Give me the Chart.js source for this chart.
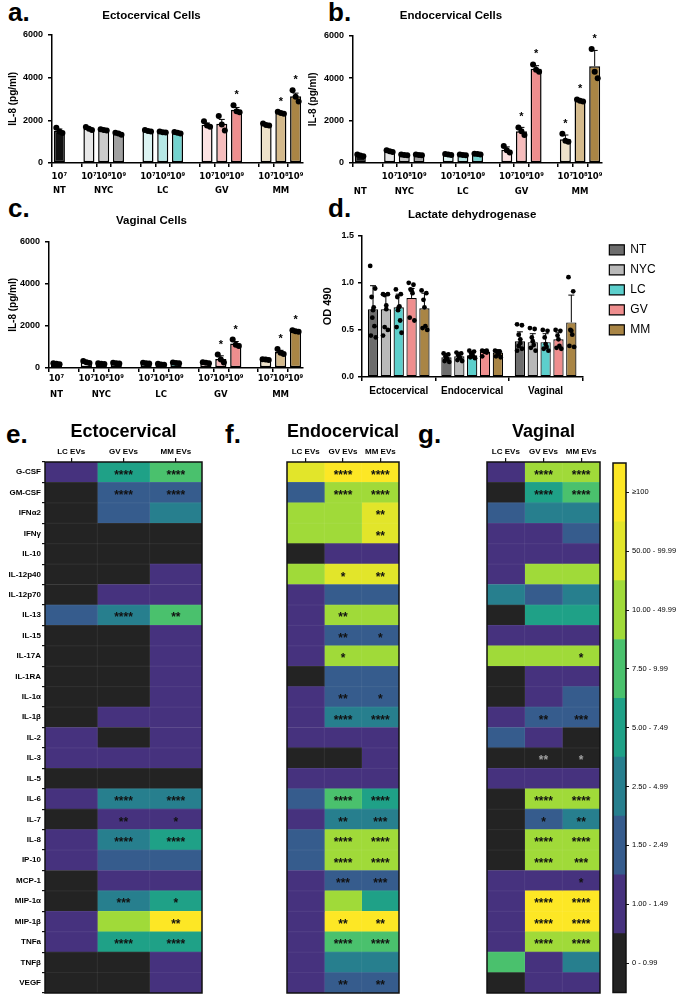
<!DOCTYPE html>
<html>
<head>
<meta charset="utf-8">
<script src="https://cdn.jsdelivr.net/npm/chart.js@4.4.1/dist/chart.umd.min.js"></script>
<style>
  body { margin: 0; background: #fff; width: 680px; height: 1000px; position: relative; overflow: hidden; }
  canvas { position: absolute; }
  .tag { position: absolute; font: bold 26px "Liberation Sans", Arial, sans-serif; line-height: 26px; color: #000; }
</style>
</head>
<body>
<div class="tag" style="left:8px;top:-1px">a.</div>
<div class="tag" style="left:328px;top:-1px">b.</div>
<div class="tag" style="left:8px;top:195px">c.</div>
<div class="tag" style="left:328px;top:195px">d.</div>
<div class="tag" style="left:6px;top:421px">e.</div>
<div class="tag" style="left:225px;top:421px">f.</div>
<div class="tag" style="left:418px;top:421px">g.</div>

<canvas id="ecto" width="320" height="200" style="left:0;top:0"></canvas>
<canvas id="endo" width="320" height="200" style="left:300px;top:0"></canvas>
<canvas id="vag" width="320" height="200" style="left:0;top:200px"></canvas>
<canvas id="ldh" width="362" height="200" style="left:318px;top:200px"></canvas>
<canvas id="hmE" width="215" height="590" style="left:0;top:410px"></canvas>
<canvas id="hmF" width="210" height="590" style="left:205px;top:410px"></canvas>
<canvas id="hmG" width="190" height="590" style="left:420px;top:410px"></canvas>
<canvas id="scale" width="80" height="545" style="left:600px;top:455px"></canvas>

<script>
// ---------- data: IL-8 (pg/ml) ----------
// bar order: NT, NYC 10^7 10^8 10^9, LC ..., GV ..., MM ...
const groups = ['NT', 'NYC', 'LC', 'GV', 'MM'];
const doses = ['10⁷', '10⁸', '10⁹'];

const ectoMean = [1500, 1600, 1550, 1380, 1500, 1450, 1420, 1790, 1840, 2490, 1790, 2350, 3120];
const ectoErr = [90, 50, 30, 50, 30, 20, 30, 80, 200, 110, 40, 40, 150];
const ectoPts = [
  [1650, 1480, 1400], [1680, 1600, 1550], [1580, 1550, 1520], [1420, 1380, 1320],
  [1540, 1500, 1480], [1470, 1440, 1430], [1450, 1420, 1380],
  [1950, 1750, 1700], [2200, 1800, 1520], [2700, 2420, 2380],
  [1850, 1780, 1750], [2400, 2340, 2300], [3400, 3100, 2880]
];
const ectoSig = ['', '', '', '', '', '', '', '', '', '*', '', '*', '*'];

const endoMean = [350, 550, 380, 380, 400, 380, 420, 630, 1500, 4440, 1120, 2940, 4560];
const endoErr = [40, 40, 20, 20, 20, 15, 20, 130, 180, 150, 200, 50, 750];
const endoPts = [
  [400, 350, 320], [600, 550, 520], [400, 380, 360], [400, 380, 360],
  [420, 400, 380], [400, 380, 370], [440, 420, 400],
  [800, 600, 500], [1680, 1500, 1320], [4650, 4400, 4300],
  [1380, 1050, 1000], [3000, 2940, 2900], [5380, 4300, 4000]
];
const endoSig = ['', '', '', '', '', '', '', '', '*', '*', '*', '*', '*'];

const vagMean = [200, 280, 210, 230, 230, 175, 240, 250, 430, 1160, 400, 760, 1750];
const vagErr = [20, 30, 20, 20, 20, 20, 20, 20, 150, 100, 20, 80, 30];
const vagPts = [
  [230, 200, 180], [330, 270, 240], [230, 200, 190], [250, 230, 210],
  [250, 230, 210], [200, 170, 160], [260, 240, 220],
  [270, 250, 230], [640, 400, 260], [1350, 1100, 1050],
  [420, 400, 380], [900, 720, 660], [1800, 1750, 1720]
];
const vagSig = ['', '', '', '', '', '', '', '', '*', '*', '', '*', '*'];

const barColors = ['#111111', '#e8e8e8', '#cbcbcb', '#a0a0a0', '#dcf4f3', '#b5e8e6', '#72d3cf',
  '#fde2e2', '#f6bcbc', '#ee8e8e', '#eee2ca', '#d4ba8c', '#a98545'];

// ---------- data: LDH (OD 490) ----------
const ldhGroups = ['Ectocervical', 'Endocervical', 'Vaginal'];
const ldhSeries = ['NT', 'NYC', 'LC', 'GV', 'MM'];
const ldhColors = ['#6d6d6d', '#b9b9b9', '#5ccfcc', '#ef8e8e', '#a98545'];
const ldhNT = [0.72, 0.21, 0.38];
const ldhNYC = [0.72, 0.22, 0.37];
const ldhLC = [0.74, 0.23, 0.37];
const ldhGV = [0.84, 0.27, 0.40];
const ldhMM = [0.73, 0.26, 0.58];
const ldhErrNT = [0.25, 0.04, 0.10];
const ldhErrNYC = [0.16, 0.04, 0.09];
const ldhErrLC = [0.14, 0.04, 0.09];
const ldhErrGV = [0.10, 0.02, 0.07];
const ldhErrMM = [0.16, 0.03, 0.29];
const ldhPtsNT = [[1.18, 0.94, 0.85, 0.74, 0.71, 0.63, 0.54, 0.44, 0.42], [0.25, 0.24, 0.22, 0.20, 0.19, 0.17, 0.16], [0.56, 0.55, 0.45, 0.40, 0.36, 0.33, 0.30, 0.28]];
const ldhPtsNYC = [[0.88, 0.88, 0.87, 0.76, 0.72, 0.53, 0.50, 0.44], [0.26, 0.25, 0.23, 0.21, 0.20, 0.18, 0.17], [0.52, 0.51, 0.42, 0.38, 0.34, 0.31, 0.28]];
const ldhPtsLC = [[0.93, 0.88, 0.85, 0.75, 0.74, 0.71, 0.60, 0.53, 0.47], [0.28, 0.27, 0.25, 0.24, 0.22, 0.21, 0.20], [0.50, 0.49, 0.42, 0.35, 0.32, 0.30, 0.28]];
const ldhPtsGV = [[1.00, 0.98, 0.93, 0.92, 0.89, 0.63, 0.60], [0.28, 0.28, 0.27, 0.27, 0.26, 0.22], [0.50, 0.49, 0.44, 0.40, 0.33, 0.31, 0.30]];
const ldhPtsMM = [[0.92, 0.89, 0.82, 0.74, 0.54, 0.52, 0.50], [0.28, 0.27, 0.27, 0.26, 0.24, 0.22, 0.21], [1.06, 0.91, 0.50, 0.49, 0.45, 0.33, 0.32]];

// ---------- data: fold change heatmaps (class index into the colour scale) ----------
const cytokines = ['G-CSF', 'GM-CSF', 'IFNα2', 'IFNγ', 'IL-10', 'IL-12p40', 'IL-12p70', 'IL-13', 'IL-15',
  'IL-17A', 'IL-1RA', 'IL-1α', 'IL-1β', 'IL-2', 'IL-3', 'IL-5', 'IL-6', 'IL-7', 'IL-8', 'IP-10',
  'MCP-1', 'MIP-1α', 'MIP-1β', 'TNFa', 'TNFβ', 'VEGF'];
const evNames = ['LC EVs', 'GV EVs', 'MM EVs'];
const rangeLabels = ['0 - 0.99', '1.00 - 1.49', '1.50 - 2.49', '2.50 - 4.99', '5.00 - 7.49',
  '7.50 - 9.99', '10.00 - 49.99', '50.00 - 99.99', '≥100'];
const rangeColors = ['#232323', '#46327e', '#365c8d', '#277f8e', '#1fa187', '#4ac16d', '#a0da39', '#e2e52a', '#fde725'];

const ectoLC = [1, 0, 0, 0, 0, 0, 0, 2, 0, 0, 0, 0, 0, 1, 1, 0, 1, 0, 1, 1, 0, 0, 1, 1, 0, 0];
const ectoGV = [4, 2, 2, 0, 0, 0, 1, 3, 0, 0, 0, 0, 1, 0, 1, 0, 3, 1, 3, 2, 1, 3, 6, 4, 0, 0];
const ectoMM = [5, 2, 3, 0, 0, 1, 1, 5, 1, 1, 1, 1, 1, 1, 1, 0, 3, 1, 4, 2, 1, 4, 8, 4, 1, 1];
const ectoGVSig = ['****', '****', '', '', '', '', '', '****', '', '', '', '', '', '', '', '', '****', '**', '****', '', '', '***', '', '****', '', ''];
const ectoMMSig = ['****', '****', '', '', '', '', '', '**', '', '', '', '', '', '', '', '', '****', '*', '****', '', '', '*', '**', '****', '', ''];

const endoLC = [7, 2, 6, 6, 0, 6, 1, 1, 1, 1, 0, 1, 1, 1, 0, 1, 2, 1, 2, 2, 1, 1, 1, 1, 1, 1];
const endoGV = [8, 6, 6, 6, 1, 7, 2, 6, 2, 6, 2, 2, 3, 1, 0, 1, 5, 3, 6, 6, 2, 6, 8, 5, 3, 2];
const endoMM = [8, 6, 7, 7, 1, 7, 2, 6, 2, 6, 2, 2, 3, 1, 1, 1, 4, 3, 6, 6, 2, 4, 8, 5, 3, 2];
const endoGVSig = ['****', '****', '', '', '', '*', '', '**', '**', '*', '', '**', '****', '', '', '', '****', '**', '****', '****', '***', '', '**', '****', '', '**'];
const endoMMSig = ['****', '****', '**', '**', '', '**', '', '', '*', '', '', '*', '****', '', '', '', '****', '***', '****', '****', '***', '', '**', '****', '', '**'];

const vagLC = [1, 0, 2, 1, 1, 1, 3, 0, 1, 6, 0, 0, 1, 2, 0, 1, 0, 0, 0, 0, 1, 1, 1, 1, 5, 0];
const vagGV = [6, 4, 3, 1, 1, 6, 2, 4, 1, 6, 1, 1, 2, 1, 0, 1, 6, 2, 6, 6, 1, 8, 8, 6, 1, 1];
const vagMM = [6, 5, 3, 2, 1, 6, 3, 4, 1, 6, 1, 2, 2, 0, 0, 1, 6, 3, 6, 6, 1, 8, 8, 6, 3, 1];
const vagGVSig = ['****', '****', '', '', '', '', '', '', '', '', '', '', '**', '', '**', '', '****', '*', '****', '****', '', '****', '****', '****', '', ''];
const vagMMSig = ['****', '****', '', '', '', '', '', '', '', '*', '', '', '***', '', '*', '', '****', '**', '****', '***', '*', '****', '****', '****', '', ''];

// ---------- setup ----------
const FONT = '"Liberation Sans", Arial, Helvetica, sans-serif';
Chart.defaults.font.family = FONT;
Chart.defaults.color = '#000';
Chart.defaults.animation = false;
Chart.defaults.plugins.tooltip.enabled = false;

// NT gets one bar, the other groups three, with an empty slot between groups
function slots(values) {
  const out = [values[0]];
  for (let g = 0; g < 4; g++) {
    out.push(null);
    for (let k = 0; k < 3; k++) out.push(values[1 + g * 3 + k]);
  }
  return out;
}
function slotLabels(ntDose) {
  const out = [[ntDose ? doses[0] : '', 'NT']];
  for (let g = 1; g < groups.length; g++) {
    out.push(['', '']);
    doses.forEach((d, k) => out.push([d, k === 1 ? groups[g] : '']));
  }
  return out;
}

// error bars, dots and stars on top of the bars
const marks = {
  id: 'marks',
  afterDatasetsDraw(chart, args, o) {
    const ctx = chart.ctx, y = chart.scales.y;
    ctx.save();
    chart.data.datasets.forEach((ds, di) => {
      chart.getDatasetMeta(di).data.forEach((bar, i) => {
        const v = ds.data[i];
        if (v == null) return;
        const e = o.errors[di][i], pts = o.points[di][i] || [];
        const cx = bar.x, top = y.getPixelForValue(v + e);
        ctx.strokeStyle = '#000';
        ctx.lineWidth = 1;
        ctx.beginPath();
        ctx.moveTo(cx, y.getPixelForValue(v));
        ctx.lineTo(cx, top);
        ctx.moveTo(cx - o.cap, top);
        ctx.lineTo(cx + o.cap, top);
        ctx.stroke();
        ctx.fillStyle = '#000';
        let hi = top;
        pts.forEach((pv, k) => {
          const dx = pts.length > 1 ? (k / (pts.length - 1) - 0.5) * bar.width * 0.55 * (k % 2 ? -1 : 1) : 0;
          const py = y.getPixelForValue(pv);
          hi = Math.min(hi, py);
          ctx.beginPath();
          ctx.arc(cx + dx, py, o.r, 0, Math.PI * 2);
          ctx.fill();
        });
        const s = o.stars && o.stars[di][i];
        if (s) {
          ctx.font = 'bold 11px ' + FONT;
          ctx.textAlign = 'center';
          ctx.textBaseline = 'middle';
          ctx.fillText(s, cx, hi - 10);
        }
      });
    });
    ctx.restore();
  }
};

function il8Chart(id, title, mean, err, pts, sig, ntDose, box) {
  const data = slots(mean);
  new Chart(document.getElementById(id), {
    type: 'bar',
    data: {
      labels: slotLabels(ntDose),
      datasets: [{
        data,
        backgroundColor: slots(barColors),
        borderColor: '#000',
        borderWidth: 1.5,
        borderSkipped: false,
        barPercentage: 0.75,
        categoryPercentage: 1
      }]
    },
    options: {
      responsive: false,
      layout: { padding: { right: box.padR } },
      plugins: {
        legend: { display: false },
        title: { display: true, text: title, font: { size: 11.5, weight: 'bold' }, padding: box.titlePad },
        marks: { points: [slots(pts)], errors: [slots(err)], stars: [slots(sig)], cap: 3, r: 3 }
      },
      scales: {
        x: {
          grid: { drawOnChartArea: false, tickLength: 4, lineWidth: 1.5, color: c => data[c.index] == null ? 'rgba(0,0,0,0)' : '#000' },
          border: { width: 1.5, color: '#000' },
          ticks: { autoSkip: false, maxRotation: 0, padding: box.xPad, font: { family: '"DejaVu Sans", sans-serif', size: 8.5, weight: 'bold', lineHeight: box.lh } },
          afterFit: s => { s.height = box.xH; }
        },
        y: {
          min: 0, max: 6000,
          grid: { drawOnChartArea: false, tickLength: 4, lineWidth: 1.5, color: '#000' },
          border: { width: 1.5, color: '#000' },
          ticks: { stepSize: 2000, padding: 5, font: { size: 9, weight: 'bold' }, callback: v => String(v) },
          title: { display: true, text: 'IL-8 (pg/ml)', font: { size: 10, weight: 'bold' }, padding: { top: 7, bottom: 0 } },
          afterFit: s => { s.width = box.yW; }
        }
      }
    },
    plugins: [marks]
  });
}

il8Chart('ecto', 'Ectocervical Cells', ectoMean, ectoErr, ectoPts, ectoSig, true,
  { padR: 17, titlePad: { top: 9, bottom: 12 }, xPad: 3, lh: 1.65, xH: 37, yW: 52 });
il8Chart('endo', 'Endocervical Cells', endoMean, endoErr, endoPts, endoSig, false,
  { padR: 18, titlePad: { top: 9, bottom: 13 }, xPad: 3, lh: 1.7, xH: 37, yW: 53 });
il8Chart('vag', 'Vaginal Cells', vagMean, vagErr, vagPts, vagSig, true,
  { padR: 17, titlePad: { top: 14, bottom: 14 }, xPad: -1, lh: 1.9, xH: 32, yW: 49 });

// LDH
const ldhMeans = [ldhNT, ldhNYC, ldhLC, ldhGV, ldhMM];
new Chart(document.getElementById('ldh'), {
  type: 'bar',
  data: {
    labels: ldhGroups,
    datasets: ldhSeries.map((name, k) => ({
      label: name,
      data: ldhMeans[k],
      backgroundColor: ldhColors[k],
      borderColor: '#000',
      borderWidth: 1.2,
      borderSkipped: false,
      categoryPercentage: 0.875,
      barPercentage: 0.8
    }))
  },
  options: {
    responsive: false,
    layout: { padding: { right: 22 } },
    plugins: {
      legend: {
        display: true, position: 'right', align: 'start', fullSize: false,
        labels: { boxWidth: 15, boxHeight: 10, padding: 8, font: { size: 12 } }
      },
      title: { display: true, fullSize: false, text: 'Lactate dehydrogenase', font: { size: 11.5, weight: 'bold' }, padding: { top: 8, bottom: 14 } },
      marks: {
        points: [ldhPtsNT, ldhPtsNYC, ldhPtsLC, ldhPtsGV, ldhPtsMM],
        errors: [ldhErrNT, ldhErrNYC, ldhErrLC, ldhErrGV, ldhErrMM],
        cap: 3, r: 2.4
      }
    },
    scales: {
      x: {
        grid: { drawOnChartArea: false, tickLength: 4, lineWidth: 1.5, color: '#000' },
        border: { width: 1.5, color: '#000' },
        ticks: { padding: 4, font: { size: 10, weight: 'bold' } },
        afterFit: s => { s.height = 23; }
      },
      y: {
        min: 0, max: 1.5,
        grid: { drawOnChartArea: false, tickLength: 4, lineWidth: 1.5, color: '#000' },
        border: { width: 1.5, color: '#000' },
        ticks: { stepSize: 0.5, padding: 4, font: { size: 9, weight: 'bold' }, callback: v => v.toFixed(1) },
        title: { display: true, text: 'OD 490', font: { size: 11, weight: 'bold' }, padding: { top: 3, bottom: 0 } },
        afterFit: s => { s.width = 44; }
      },
      gap: {
        type: 'linear', position: 'right',
        grid: { display: false }, border: { display: false }, ticks: { display: false },
        afterFit: s => { s.width = 19; }
      }
    }
  },
  plugins: [marks]
});

// heatmaps: faint cell lines, stars in cells and the black frame
const cells = {
  id: 'cells',
  afterDatasetsDraw(chart, args, o) {
    const ctx = chart.ctx;
    const a = chart.chartArea;
    ctx.save();
    if (o.grid) {
      ctx.strokeStyle = 'rgba(255,255,255,0.07)';
      ctx.lineWidth = 1;
      ctx.beginPath();
      const x = chart.scales.x, y = chart.scales.y;
      [1, 2].forEach(v => { const px = x.getPixelForValue(v); ctx.moveTo(px, a.top); ctx.lineTo(px, a.bottom); });
      for (let i = 1; i < chart.data.labels.length; i++) {
        const py = (y.getPixelForValue(i - 1) + y.getPixelForValue(i)) / 2;
        ctx.moveTo(a.left, py); ctx.lineTo(a.right, py);
      }
      ctx.stroke();
    }
    ctx.font = 'bold 12px ' + FONT;
    ctx.textAlign = 'center';
    ctx.textBaseline = 'middle';
    (o.stars || []).forEach((col, di) => {
      const meta = chart.getDatasetMeta(di);
      col.forEach((s, i) => {
        if (!s) return;
        const c = meta.data[i].getCenterPoint();
        ctx.fillStyle = o.classes[di][i] === 0 ? '#a0a0a0' : '#111';
        ctx.fillText(s, c.x, c.y + 3);
      });
    });
    ctx.lineWidth = 1.5;
    ctx.strokeStyle = '#111';
    ctx.strokeRect(a.left, a.top, a.right - a.left, a.bottom - a.top);
    ctx.restore();
  }
};

function heatmap(id, title, classes, stars, rowLabels, pad) {
  new Chart(document.getElementById(id), {
    type: 'bar',
    data: {
      labels: cytokines,
      datasets: classes.map((col, k) => ({
        label: evNames[k],
        data: col.map(() => 1),
        backgroundColor: col.map(c => rangeColors[c]),
        borderWidth: 0,
        barPercentage: 1,
        categoryPercentage: 1
      }))
    },
    options: {
      responsive: false,
      indexAxis: 'y',
      layout: { padding: pad },
      plugins: {
        legend: { display: false },
        title: { display: true, fullSize: false, text: title, font: { size: 18, weight: 'bold' }, padding: { top: 11, bottom: 5 } },
        cells: { classes, stars: [[], ...stars], grid: true }
      },
      scales: {
        x: {
          type: 'linear', position: 'top', stacked: true, min: 0, max: 3,
          afterBuildTicks: s => { s.ticks = [0.5, 1.5, 2.5].map(value => ({ value })); },
          grid: { drawOnChartArea: false, tickLength: 4, lineWidth: 1.2, color: '#111' },
          border: { display: false },
          ticks: { padding: 1, font: { size: 8, weight: 'bold' }, callback: (v, i) => evNames[i] },
          afterFit: s => { s.height = 14.4; }
        },
        y: {
          stacked: true,
          display: rowLabels,
          grid: { drawOnChartArea: false, tickLength: 3, lineWidth: 1.2, color: '#111' },
          border: { display: false },
          ticks: { autoSkip: false, padding: 1, font: { size: 8, weight: 'bold' } },
          afterFit: s => { s.width = 45; }
        }
      }
    },
    plugins: [cells]
  });
}

heatmap('hmE', 'Ectocervical', [ectoLC, ectoGV, ectoMM], [ectoGVSig, ectoMMSig], true, { right: 13, bottom: 7 });
heatmap('hmF', 'Endocervical', [endoLC, endoGV, endoMM], [endoGVSig, endoMMSig], false, { left: 37, right: 16, bottom: 7 });
heatmap('hmG', 'Vaginal', [vagLC, vagGV, vagMM], [vagGVSig, vagMMSig], false, { left: 22, right: 10, bottom: 7 });

// colour scale
new Chart(document.getElementById('scale'), {
  type: 'bar',
  data: {
    labels: [''],
    datasets: rangeLabels.map((name, k) => ({
      label: name, data: [1], backgroundColor: rangeColors[k],
      barPercentage: 1, categoryPercentage: 1
    }))
  },
  options: {
    responsive: false,
    layout: { padding: { left: 13, top: 8, bottom: 7 } },
    plugins: { legend: { display: false }, cells: {} },
    scales: {
      x: { stacked: true, display: false },
      y: {
        stacked: true, position: 'right', min: 0, max: 9,
        afterBuildTicks: s => { s.ticks = rangeLabels.map((_, k) => ({ value: k + 0.5 })); },
        grid: { drawOnChartArea: false, tickLength: 3, lineWidth: 1, color: '#111' },
        border: { display: false },
        ticks: { padding: 3, font: { size: 7.5 }, callback: (v, i) => rangeLabels[i] },
        afterFit: s => { s.width = 54; }
      }
    }
  },
  plugins: [cells]
});
</script>
</body>
</html>
